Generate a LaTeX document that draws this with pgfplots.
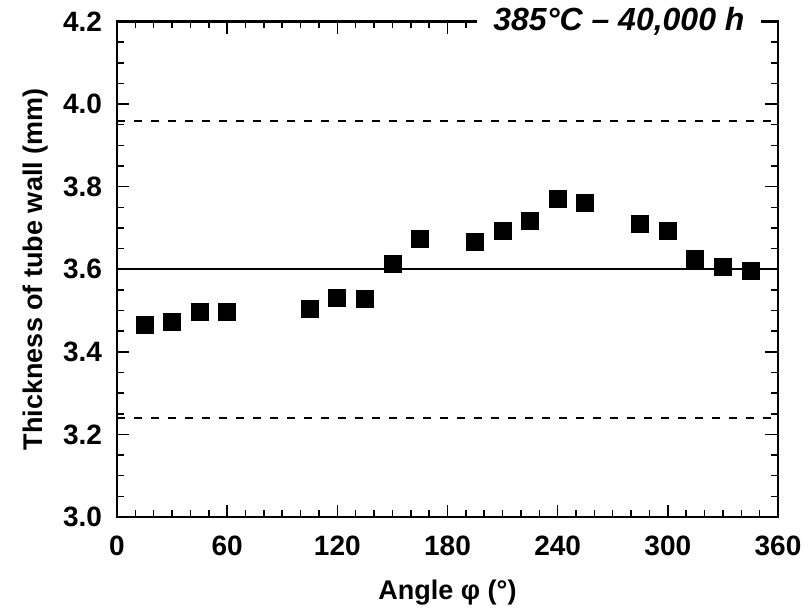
\documentclass[border=0pt]{standalone}
\usepackage{fontspec}
\setmainfont{Liberation Sans}
\usepackage{pgfplots}
\pgfplotsset{compat=1.18}

\pgfplotstableread{
angle thick
15  3.465
30  3.473
45  3.496
60  3.497
105 3.503
120 3.530
135 3.528
150 3.614
165 3.673
195 3.666
210 3.693
225 3.717
240 3.770
255 3.761
285 3.709
300 3.694
315 3.626
330 3.606
345 3.596
}\wall

\begin{document}
\begin{tikzpicture}
\begin{axis}[
  name=ax,
  scale only axis,
  width=330.5pt, height=247.75pt,
  xmin=0, xmax=360, ymin=3.0, ymax=4.2,
  xtick={0,60,...,360}, minor x tick num=5,
  ytick={3.0,3.2,...,4.2}, minor y tick num=3,
  tick align=inside,
  major tick length=6.25pt, minor tick length=3.3pt,
  axis line style={line width=1.25pt},
  every tick/.style={black, line width=0.75pt},
  /pgf/number format/assume math mode=true,
  ticklabel style={font=\fontsize{14}{16}\selectfont\bfseries},
  yticklabel style={/pgf/number format/.cd, fixed, fixed zerofill, precision=1},
  yticklabel shift=4pt,
  xticklabel shift=6pt,
  xlabel={Angle φ (°)},
  ylabel={Thickness of tube wall (mm)},
  label style={font=\fontsize{13.5}{16}\selectfont\bfseries},
  xlabel style={at={(axis description cs:0.5,-0.153)}, anchor=center},
  ylabel style={at={(axis description cs:-0.124,0.5)}, anchor=center},
]
% nominal thickness and +/-10 % limits
\addplot[black, line width=1pt] coordinates {(0,3.6) (360,3.6)};
\addplot[black, line width=0.9pt, dash pattern=on 4pt off 4.5pt] coordinates {(0,3.96) (360,3.96)};
\addplot[black, line width=0.9pt, dash pattern=on 4pt off 4.5pt] coordinates {(0,3.24) (360,3.24)};
\addplot[only marks, mark=square*, mark size=4.25pt, black] table[x=angle, y=thick] {\wall};
\coordinate (T) at (axis cs:273.4,4.2);
\end{axis}
\node[fill=white, minimum width=142pt, minimum height=28pt, inner sep=0pt,
  font=\fontsize{16}{18}\selectfont\bfseries\itshape] at (T) {385°C – 40,000 h};
\pgfresetboundingbox
\path (ax.south west) +(-58.5pt,-45pt) rectangle +(347pt,258.5pt);
\end{tikzpicture}
\end{document}
